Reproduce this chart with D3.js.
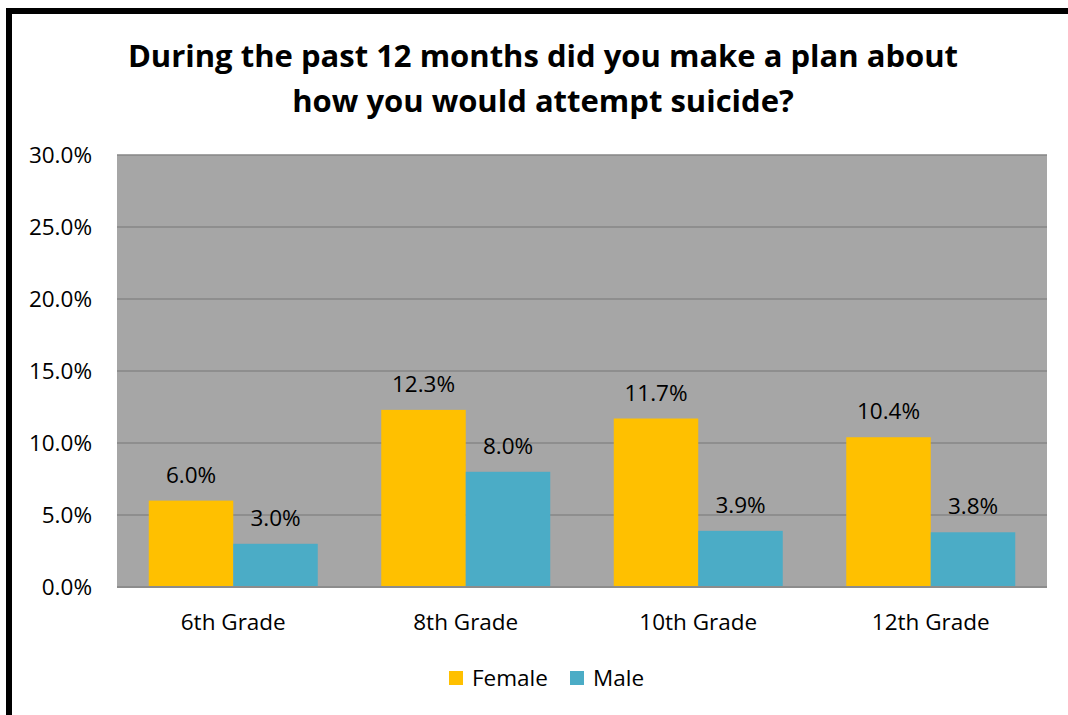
<!DOCTYPE html>
<html><head><meta charset="utf-8">
<script src="https://cdn.jsdelivr.net/npm/d3@7"></script>
<style>html,body{margin:0;padding:0;background:#fff;overflow:hidden}svg{display:block}text{font-family:"Open Sans",sans-serif}</style>
</head><body>
<svg id="c" width="1068" height="715"></svg>
<script>
const categories = ["6th Grade", "8th Grade", "10th Grade", "12th Grade"];
const seriesNames = ["Female", "Male"];
const female = [6.0, 12.3, 11.7, 10.4];
const male = [3.0, 8.0, 3.9, 3.8];
const yTicks = [0, 5, 10, 15, 20, 25, 30];
const titleLines = ["During the past 12 months did you make a plan about", "how you would attempt suicide?"];
const colors = ["#FFC000", "#4BACC6"];
const FONT = "'Open Sans',sans-serif";
const FS = 22.5;

const svg = d3.select("#c");
svg.append("rect").attr("x", 9).attr("y", 11).attr("width", 1100).attr("height", 760)
  .attr("fill", "#fff").attr("stroke", "#000").attr("stroke-width", 6);

const L = 117, R = 1047, T = 155, B = 587;
const x0 = d3.scaleBand().domain(categories).range([L, R]).paddingInner(63.5/232.5).paddingOuter(63.5/232.5/2);
const x1 = d3.scaleBand().domain(seriesNames).range([0, x0.bandwidth()]);
const y = d3.scaleLinear().domain([0, 30]).range([B, T]);

svg.append("rect").attr("x", L).attr("y", T).attr("width", R - L).attr("height", B - T).attr("fill", "#A6A6A6");

svg.append("g").selectAll("line").data(yTicks.slice(1)).join("line")
  .attr("x1", L).attr("x2", R).attr("y1", d => y(d)).attr("y2", d => y(d))
  .attr("stroke", "#868686").attr("stroke-width", 1.5);

const yAxis = d3.axisLeft(y).tickValues(yTicks).tickFormat(d => d.toFixed(1) + "%").tickSize(0).tickPadding(0);
const yg = svg.append("g").attr("transform", `translate(92,0)`).call(yAxis);
yg.select(".domain").remove();
yg.selectAll("text").attr("font-size", FS).attr("fill", "#000").attr("font-family", FONT);

const data = categories.map((c, i) => ({c, vals: [female[i], male[i]]}));
const groups = svg.append("g").selectAll("g").data(data).join("g")
  .attr("transform", d => `translate(${x0(d.c)},0)`);
groups.selectAll("rect").data(d => d.vals.map((v, j) => ({s: seriesNames[j], v, j}))).join("rect")
  .attr("x", d => x1(d.s)).attr("width", x1.bandwidth())
  .attr("y", d => y(d.v)).attr("height", d => B - y(d.v))
  .attr("fill", d => colors[d.j]);
groups.selectAll("text").data(d => d.vals.map((v, j) => ({s: seriesNames[j], v, j}))).join("text")
  .attr("x", d => x1(d.s) + x1.bandwidth() / 2).attr("y", d => y(d.v) - 18)
  .attr("text-anchor", "middle").attr("font-size", FS).attr("fill", "#000")
  .text(d => d.v.toFixed(1) + "%");

svg.append("line").attr("x1", L).attr("x2", R).attr("y1", B).attr("y2", B).attr("stroke", "#8C8C8C").attr("stroke-width", 2);

const xAxis = d3.axisBottom(x0).tickSize(0).tickPadding(0);
const xg = svg.append("g").attr("transform", `translate(0,${B})`).call(xAxis);
xg.select(".domain").remove();
xg.selectAll("text").attr("font-size", FS).attr("fill", "#000").attr("dy", null).attr("y", 43)
  .attr("font-family", FONT);

svg.append("g").selectAll("text").data(titleLines).join("text")
  .attr("x", 543).attr("y", (d, i) => 67 + i * 45).attr("text-anchor", "middle")
  .attr("font-size", 31).attr("font-weight", "bold").attr("fill", "#000").text(d => d);

const legX = [449, 570];
const lg = svg.append("g").selectAll("g").data(seriesNames).join("g")
  .attr("transform", (d, i) => `translate(${legX[i]},671)`);
lg.append("rect").attr("width", 14).attr("height", 14).attr("fill", (d, i) => colors[i]);
lg.append("text").attr("x", 23).attr("y", 15).attr("font-size", FS).attr("fill", "#000").text(d => d);
</script>
</body></html>
